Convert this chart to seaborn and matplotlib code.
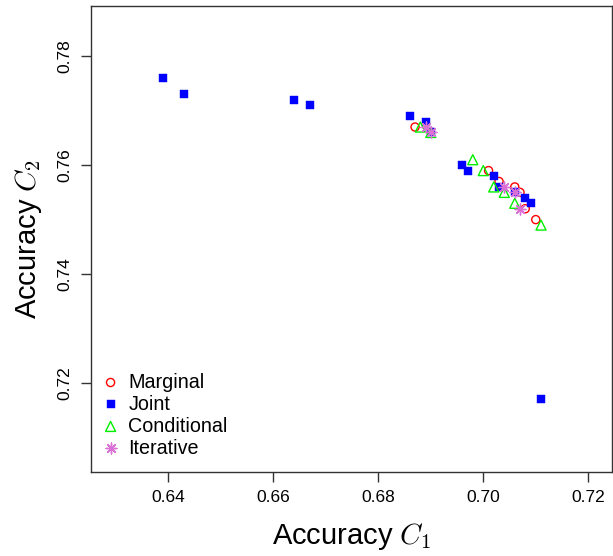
import numpy as np
import pandas as pd
import matplotlib
matplotlib.use("Agg")
import matplotlib.pyplot as plt
import seaborn as sns

# data (accuracy on C1 vs C2)
marginal_x = [0.687, 0.701, 0.703, 0.706, 0.707, 0.708, 0.710]
marginal_y = [0.767, 0.759, 0.757, 0.756, 0.755, 0.752, 0.750]

joint_x = [0.639, 0.643, 0.664, 0.667, 0.686, 0.689, 0.690, 0.696,
           0.697, 0.702, 0.703, 0.706, 0.708, 0.709, 0.711]
joint_y = [0.776, 0.773, 0.772, 0.771, 0.769, 0.768, 0.766, 0.760,
           0.759, 0.758, 0.756, 0.755, 0.754, 0.753, 0.717]

cond_x = [0.688, 0.690, 0.698, 0.700, 0.702, 0.704, 0.706, 0.711]
cond_y = [0.767, 0.766, 0.761, 0.759, 0.756, 0.755, 0.753, 0.749]

iter_x = [0.689, 0.690, 0.704, 0.706, 0.707]
iter_y = [0.767, 0.766, 0.756, 0.755, 0.752]

x_ticks = [0.64, 0.66, 0.68, 0.70, 0.72]
y_ticks = [0.72, 0.74, 0.76, 0.78]

sns.set_style("white", {"text.color": "black", "axes.labelcolor": "black",
                        "xtick.color": "black", "ytick.color": "black"})
plt.rcParams['font.family'] = ['Liberation Sans', 'DejaVu Sans']
plt.rcParams['mathtext.fontset'] = 'cm'

fig = plt.figure(figsize=(6.13, 5.56), dpi=100)
ax = fig.add_axes([0.148, 0.1505, 0.851, 0.8385])

# ===== series =====
series = [
    ("Marginal", marginal_x, marginal_y, "o", "red", "open", 34),
    ("Joint", joint_x, joint_y, "s", "blue", "filled", 34),
    ("Conditional", cond_x, cond_y, "^", "#00ee00", "open", 52),
    ("Iterative", iter_x, iter_y, (8, 2, 0), "orchid", "line", 60),
]

for name, xs, ys, mk, col, kind, size in series:
    df = pd.DataFrame({"x": xs, "y": ys})
    if kind == "filled":
        sns.scatterplot(data=df, x="x", y="y", marker=mk, s=size, color=col,
                        edgecolor=col, linewidth=0.3, ax=ax, label=name, zorder=3)
    elif kind == "open":
        sns.scatterplot(data=df, x="x", y="y", marker=mk, s=size,
                        facecolor="none", edgecolor=col, linewidth=1.0,
                        ax=ax, label=name, zorder=3)
    else:
        sns.scatterplot(data=df, x="x", y="y", marker=mk, s=size, color=col,
                        linewidth=1.0, ax=ax, label=name, zorder=3)

ax.set_xlim(0.6252, 0.7246)
ax.set_ylim(0.7036, 0.7892)
ax.set_xticks(x_ticks)
ax.set_xticklabels([f"{t:.2f}" for t in x_ticks])
ax.set_yticks(y_ticks)
ax.set_yticklabels([f"{t:.2f}" for t in y_ticks], rotation=90, va="center")

ax.tick_params(axis="both", direction="out", length=7, width=1,
               color="#333333", labelsize=12.5, pad=6, bottom=True, left=True)

for sp in ax.spines.values():
    sp.set_color("#333333")
    sp.set_linewidth(1)

ax.set_xlabel(r"Accuracy $C_1$", fontsize=21, labelpad=11)
ax.set_ylabel(r"Accuracy $C_2$", fontsize=21, labelpad=10)

ax.legend(loc="lower left", frameon=False, fontsize=14.2,
          bbox_to_anchor=(0.004, 0.019), handletextpad=0.3,
          labelspacing=0.15, borderpad=0.3, borderaxespad=0.0,
          handlelength=1.2)

fig.savefig("out.png", dpi=100)
